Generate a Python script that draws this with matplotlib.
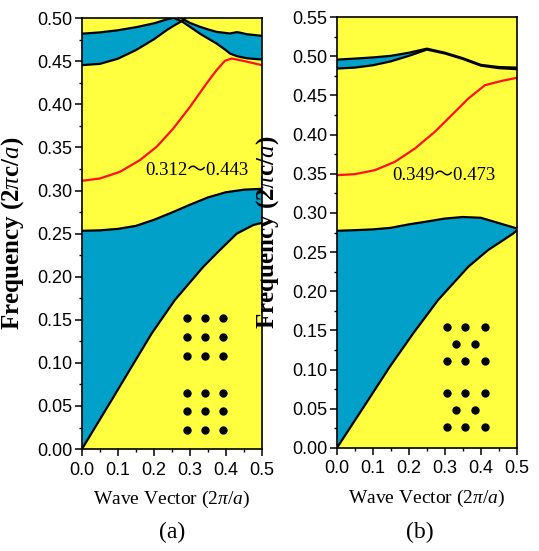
import numpy as np
import matplotlib
matplotlib.use('Agg')
from matplotlib import pyplot as plt
from matplotlib.ticker import MultipleLocator, FormatStrFormatter

YELLOW = '#FFFF40'
BLUE = '#00A0C8'

# ---------------- panel (a) ----------------
ka1 = [0, 0.0824, 0.138, 0.1935, 0.258, 0.337, 0.383, 0.430, 0.476, 0.5]
a_band1 = [0, 0.0568, 0.0955, 0.134, 0.1729, 0.2115, 0.2309, 0.250, 0.260, 0.2625]
ka2 = [0, 0.05, 0.1, 0.15, 0.2, 0.25, 0.3, 0.35, 0.4, 0.45, 0.5]
a_band2 = [0.2533, 0.2538, 0.2555, 0.259, 0.266, 0.2745, 0.2835, 0.292, 0.298, 0.301, 0.302]

ka_red = [0, 0.05, 0.1056, 0.161, 0.2074, 0.2537, 0.3, 0.346, 0.374, 0.397, 0.416, 0.448, 0.5]
a_red = [0.3113, 0.314, 0.3217, 0.3353, 0.3507, 0.372, 0.397, 0.4242, 0.4397, 0.4505, 0.4532, 0.4505, 0.4455]

# upper-left bulk band
ka_ul = [0, 0.05, 0.1, 0.15, 0.2, 0.235, 0.254, 0.277]
a_ul_low = [0.4455, 0.447, 0.453, 0.463, 0.4755, 0.486, 0.491, 0.4965]
a_ul_high = [0.482, 0.4835, 0.486, 0.4895, 0.494, 0.4985, 0.5004, 0.4965]
# lower curve keeps rising past the crossing
ka_c3_tail = [0.277, 0.285]
a_c3_tail = [0.4965, 0.5]

# upper-right bulk band
ka_ur = [0.277, 0.3, 0.328, 0.35, 0.374, 0.4, 0.411, 0.43, 0.439, 0.458, 0.5]
a_ur_low = [0.4965, 0.490, 0.482, 0.4765, 0.4706, 0.4628, 0.459, 0.456, 0.4551, 0.4535, 0.452]
a_ur_high = [0.5, 0.4945, 0.490, 0.487, 0.4841, 0.4828, 0.4822, 0.4838, 0.4832, 0.4814, 0.4795]

# ---------------- panel (b) ----------------
kb1 = [0, 0.087, 0.147, 0.212, 0.281, 0.365, 0.420, 0.49, 0.5]
b_band1 = [0, 0.0612, 0.1037, 0.1463, 0.1888, 0.2313, 0.2526, 0.2738, 0.278]
kb = [0, 0.05, 0.1, 0.15, 0.2, 0.25, 0.3, 0.35, 0.4, 0.45, 0.5]
b_band2 = [0.2772, 0.278, 0.279, 0.281, 0.2854, 0.289, 0.2928, 0.2948, 0.2938, 0.287, 0.2802]
b_up_low = [0.4843, 0.4855, 0.4885, 0.4935, 0.5005, 0.5085, 0.5035, 0.4965, 0.488, 0.4848, 0.4835]
b_up_high = [0.4957, 0.497, 0.4985, 0.5005, 0.5045, 0.5097, 0.5045, 0.4975, 0.489, 0.4862, 0.4855]
kb_red = [0, 0.05, 0.1056, 0.161, 0.2167, 0.272, 0.3185, 0.365, 0.411, 0.4574, 0.5]
b_red = [0.3482, 0.3495, 0.3546, 0.3652, 0.3822, 0.4035, 0.4247, 0.446, 0.463, 0.4685, 0.4725]

# lattice sketches (wave vector, frequency positions)
a_dot_cols = [0.291, 0.342, 0.393]
a_dot_rows = [0.1516, 0.1303, 0.1082, 0.0653, 0.0441, 0.0220]
b_dot_cols = [0.305, 0.357, 0.411]
b_dot_mid = [0.331, 0.384]
b_dot_rows = [0.154, 0.1327, 0.1114, 0.0698, 0.0485, 0.0272]

serif = ['Liberation Serif', 'DejaVu Serif']
tilde_font = ['Liberation Serif', 'Noto Sans CJK SC', 'DejaVu Sans']


def style_axes(ax, ytop):
    ax.set_facecolor(YELLOW)
    ax.set_xlim(0, 0.5)
    ax.set_ylim(0, ytop)
    ax.xaxis.set_major_locator(MultipleLocator(0.1))
    ax.xaxis.set_minor_locator(MultipleLocator(0.05))
    ax.yaxis.set_major_locator(MultipleLocator(0.05))
    ax.yaxis.set_minor_locator(MultipleLocator(0.025))
    ax.xaxis.set_major_formatter(FormatStrFormatter('%.1f'))
    ax.yaxis.set_major_formatter(FormatStrFormatter('%.2f'))
    ax.tick_params(which='major', direction='out', length=5, width=1.1, labelsize=13)
    ax.tick_params(which='minor', direction='out', length=2.5, width=1.0)
    ax.tick_params(axis='x', pad=4)
    ax.tick_params(axis='y', pad=2)
    for lab in ax.get_xticklabels() + ax.get_yticklabels():
        lab.set_fontfamily('Liberation Sans')
    for s in ax.spines.values():
        s.set_linewidth(1.2)
    ax.set_ylabel(r'Frequency (2$\pi$c/$a$)', fontsize=18, fontweight='bold', family=serif)
    ax.set_xlabel(r'Wave Vector (2$\pi$/$a$)', fontsize=14, family=serif)
    ax.yaxis.set_label_coords(-0.31, 0.5)
    ax.xaxis.set_label_coords(0.5, -0.092)


def band(ax, k_low, f_low, k_high, f_high):
    # bulk band polygon between a lower and an upper boundary
    ax.fill(list(k_low) + list(k_high)[::-1], list(f_low) + list(f_high)[::-1],
            color=BLUE, lw=0)


plt.rcParams['mathtext.fontset'] = 'custom'
plt.rcParams['mathtext.rm'] = 'Liberation Serif'
plt.rcParams['mathtext.it'] = 'Liberation Serif:italic'
plt.rcParams['mathtext.bf'] = 'Liberation Serif:bold'
plt.rcParams['lines.solid_joinstyle'] = 'round'

fig = plt.figure(figsize=(5.39, 5.51), dpi=100)
axA = fig.add_axes([0.152, 0.185, 0.334, 0.782])
axB = fig.add_axes([0.625, 0.187, 0.334, 0.782])

lw = 1.6

# panel a
style_axes(axA, 0.5)
band(axA, ka1, a_band1, ka2, a_band2)
band(axA, ka_ul, a_ul_low, ka_ul, a_ul_high)
band(axA, ka_ur, a_ur_low, ka_ur, a_ur_high)
axA.plot(ka1, a_band1, 'k-', lw=lw)
axA.plot(ka2, a_band2, 'k-', lw=lw)
axA.plot(ka_ul + ka_c3_tail[1:], a_ul_low + a_c3_tail[1:], 'k-', lw=lw)
axA.plot(ka_ul + ka_ur[1:], a_ul_high + a_ur_low[1:], 'k-', lw=lw)
axA.plot(ka_ur, a_ur_high, 'k-', lw=lw)
axA.plot(ka_red, a_red, '-', color='#FF1010', lw=1.6)
axA.text(0.318, 0.3237, '0.312～0.443', fontsize=13.5, family=tilde_font,
         ha='center', va='center')
for r in a_dot_rows:
    axA.plot(a_dot_cols, [r] * len(a_dot_cols), 'ko', ms=5, ls='none')

# panel b
style_axes(axB, 0.55)
band(axB, kb1, b_band1, kb, b_band2)
band(axB, kb, b_up_low, kb, b_up_high)
axB.plot(kb1, b_band1, 'k-', lw=lw)
axB.plot(kb, b_band2, 'k-', lw=lw)
axB.plot(kb, b_up_low, 'k-', lw=lw)
axB.plot(kb, b_up_high, 'k-', lw=lw)
axB.plot(kb_red, b_red, '-', color='#FF1010', lw=1.6)
axB.text(0.296, 0.348, '0.349～0.473', fontsize=13.5, family=tilde_font,
         ha='center', va='center')
for i, r in enumerate(b_dot_rows):
    cols = b_dot_mid if i % 3 == 1 else b_dot_cols
    axB.plot(cols, [r] * len(cols), 'ko', ms=5, ls='none')

fig.text(0.319, 0.034, '(a)', fontsize=17, family=serif, ha='center', va='center')
fig.text(0.779, 0.034, '(b)', fontsize=17, family=serif, ha='center', va='center')

fig.savefig('out.png', dpi=100)
